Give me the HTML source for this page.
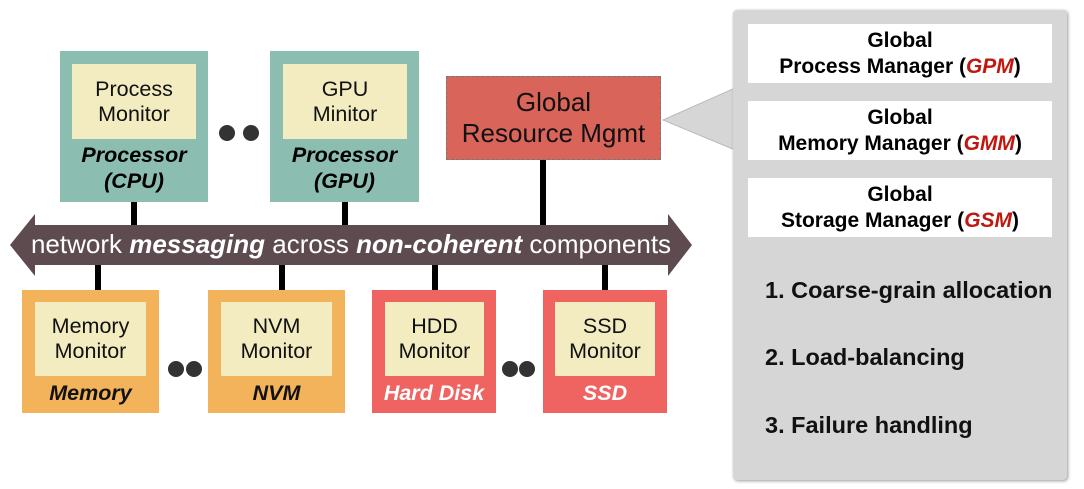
<!DOCTYPE html>
<html><head><style>
body{margin:0;width:1084px;height:489px;background:#fff;position:relative;overflow:hidden;font-family:"Liberation Sans",sans-serif}
.a{position:absolute;box-sizing:border-box}
.in{background:#f2ecc0;display:flex;align-items:center;justify-content:center;text-align:center;font-size:21.5px;line-height:25px;color:#111}
.lab{text-align:center;font-weight:bold;font-style:italic;font-size:21.5px;line-height:26px}
.ln{background:#000;width:6px}
.dot{width:16px;height:16px;border-radius:50%;background:#333}
.wb{background:#fff;text-align:center;font-weight:bold;font-size:21px;line-height:26px;padding-top:4px;color:#000}
.wb i{color:#c0170f}
.it{font-weight:bold;font-size:23.5px;color:#111}
</style></head><body>
<div class="a ln" style="left:131px;top:200px;height:26px"></div>
<div class="a ln" style="left:342px;top:200px;height:26px"></div>
<div class="a ln" style="left:540px;top:158px;height:68px"></div>
<div class="a ln" style="left:95px;top:263px;height:28px"></div>
<div class="a ln" style="left:279px;top:263px;height:28px"></div>
<div class="a ln" style="left:432px;top:263px;height:28px"></div>
<div class="a ln" style="left:602px;top:263px;height:28px"></div>
<div class="a" style="left:60px;top:51px;width:148px;height:151px;background:#8bbdb0"></div>
<div class="a in" style="left:72px;top:64px;width:124px;height:75px">Process<br>Monitor</div>
<div class="a lab" style="left:60px;top:142px;width:148px">Processor<br>(CPU)</div>
<div class="a" style="left:270px;top:51px;width:149px;height:151px;background:#8bbdb0"></div>
<div class="a in" style="left:283px;top:64px;width:124px;height:75px">GPU<br>Minitor</div>
<div class="a lab" style="left:270px;top:142px;width:149px">Processor<br>(GPU)</div>
<div class="a dot" style="left:219px;top:125px"></div>
<div class="a dot" style="left:243px;top:125px"></div>
<div class="a" style="left:446px;top:76px;width:215px;height:84px;background:#d9645a;border:1px dashed #777;display:flex;align-items:center;justify-content:center;text-align:center;font-size:26px;line-height:31px;color:#111">Global<br>Resource Mgmt</div>
<svg class="a" style="left:0;top:0" width="700" height="489"><polygon points="10,245 35,214 35,225 668,225 668,214 692,245 668,276 668,265 35,265 35,276" fill="#5d4b50"/></svg>
<div class="a" style="left:0;top:228px;width:702px;text-align:center;color:#fff;font-size:26px;line-height:32px;white-space:nowrap">network <b><i>messaging</i></b> across <b><i>non-coherent</i></b> components</div>
<div class="a" style="left:22px;top:290px;width:137px;height:123px;background:#f3b35a"></div>
<div class="a in" style="left:35px;top:302px;width:111px;height:74px">Memory<br>Monitor</div>
<div class="a lab" style="left:22px;top:380px;width:137px;color:#111">Memory</div>
<div class="a" style="left:208px;top:290px;width:137px;height:123px;background:#f3b35a"></div>
<div class="a in" style="left:221px;top:302px;width:111px;height:74px">NVM<br>Monitor</div>
<div class="a lab" style="left:208px;top:380px;width:137px;color:#111">NVM</div>
<div class="a" style="left:372px;top:290px;width:124px;height:123px;background:#ef6461"></div>
<div class="a in" style="left:385px;top:302px;width:99px;height:74px">HDD<br>Monitor</div>
<div class="a lab" style="left:372px;top:380px;width:124px;color:#fff">Hard Disk</div>
<div class="a" style="left:543px;top:290px;width:124px;height:123px;background:#ef6461"></div>
<div class="a in" style="left:555px;top:302px;width:100px;height:74px">SSD<br>Monitor</div>
<div class="a lab" style="left:543px;top:380px;width:124px;color:#fff">SSD</div>
<div class="a dot" style="left:168px;top:361px"></div>
<div class="a dot" style="left:186px;top:361px"></div>
<div class="a dot" style="left:502px;top:361px"></div>
<div class="a dot" style="left:519px;top:361px"></div>
<svg class="a" style="left:0;top:0" width="1084" height="489"><polygon points="663,120 735,88 735,150" fill="#d6d6d6" stroke="#bbb" stroke-width="1"/></svg>
<div class="a" style="left:733px;top:10px;width:334px;height:470px;background:#d6d6d6;border-radius:4px;box-shadow:1px 1px 3px #999"></div>
<div class="a wb" style="left:748px;top:24px;width:304px;height:59px">Global<br>Process Manager (<i>GPM</i>)</div>
<div class="a wb" style="left:748px;top:101px;width:304px;height:59px">Global<br>Memory Manager (<i>GMM</i>)</div>
<div class="a wb" style="left:748px;top:178px;width:304px;height:59px">Global<br>Storage Manager (<i>GSM</i>)</div>
<div class="a it" style="left:765px;top:277px;white-space:nowrap">1. Coarse-grain allocation</div>
<div class="a it" style="left:765px;top:344px">2. Load-balancing</div>
<div class="a it" style="left:765px;top:412px">3. Failure handling</div>
</body></html>
